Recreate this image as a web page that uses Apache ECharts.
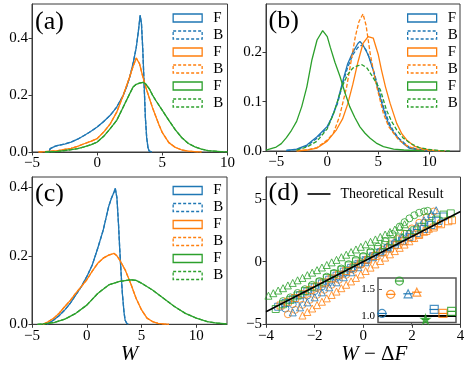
<!DOCTYPE html>
<html><head><meta charset="utf-8">
<script src="https://cdn.jsdelivr.net/npm/echarts@6/dist/echarts.min.js"></script>
<style>html,body{margin:0;padding:0;background:#fff}#c{width:471px;height:369px}</style>
</head><body><div id="c"></div>
<script>
// ---------- panel (a) histograms [W, density] ----------
const aBlueF = [[-4,0],[-3.7,0],[-3.6,0.012],[-3.5,0.018],[-3.25,0.02],[-3,0.023],[-2.5,0.028],[-2,0.035],[-1.5,0.045],[-1,0.058],[-0.5,0.072],[0,0.088],[0.5,0.107],[1,0.129],[1.5,0.158],[2,0.199],[2.25,0.228],[2.5,0.263],[2.75,0.31],[3,0.368],[3.15,0.42],[3.3,0.48],[3.4,0.45],[3.5,0.36],[3.6,0.24],[3.7,0.12],[3.8,0.05],[3.9,0.015],[4.0,0.003],[4.2,0]];
const aBlueB = aBlueF;   // B coincides with F in the picture
const aOrangeF = [[-4.5,0],[-4,0.001],[-3,0.005],[-2.5,0.009],[-2,0.013],[-1.5,0.02],[-1,0.029],[-0.5,0.037],[0,0.047],[0.5,0.07],[1,0.099],[1.5,0.14],[2,0.199],[2.5,0.265],[2.75,0.3],[3,0.33],[3.1,0.332],[3.25,0.31],[3.5,0.265],[3.75,0.225],[4,0.19],[4.25,0.155],[4.5,0.125],[4.75,0.095],[5,0.068],[5.5,0.033],[6,0.016],[6.5,0.007],[7,0.003],[7.5,0.001],[8,0]];
const aOrangeB = aOrangeF;
const aGreenF = [[-4,0],[-3,0.002],[-2,0.008],[-1.5,0.012],[-1,0.018],[-0.5,0.025],[0,0.035],[0.5,0.055],[1,0.082],[1.5,0.111],[2,0.158],[2.5,0.205],[2.75,0.228],[3,0.238],[3.25,0.242],[3.5,0.245],[3.75,0.238],[4,0.222],[4.25,0.2],[4.5,0.181],[5,0.146],[5.5,0.111],[6,0.078],[6.5,0.05],[7,0.03],[7.5,0.018],[8,0.01],[8.5,0.005],[9,0.003],[9.5,0.001],[10,0.0005]];
const aGreenB = aGreenF;

// ---------- panel (b) ----------
const bBlueF = [[-4,0.001],[-3,0.004],[-2,0.012],[-1,0.029],[0,0.05],[0.5,0.07],[1,0.1],[1.5,0.14],[2,0.177],[2.5,0.2],[3,0.218],[3.2,0.222],[3.5,0.215],[4,0.195],[4.5,0.164],[5,0.122],[5.5,0.085],[6,0.055],[6.5,0.037],[7,0.025],[7.5,0.014],[8,0.006],[9,0.002],[10,0.0005],[11,0]];
const bBlueB = [[-4,0.001],[-3,0.003],[-2,0.01],[-1,0.026],[0,0.047],[1,0.096],[1.5,0.135],[2,0.17],[2.5,0.195],[3,0.21],[3.4,0.215],[3.8,0.205],[4.2,0.185],[4.6,0.158],[5,0.128],[5.5,0.09],[6,0.06],[6.5,0.04],[7,0.026],[8,0.008],[9,0.003],[10,0.001],[11,0]];
const bOrangeF = [[-3,0],[-2,0.002],[-1,0.006],[0,0.02],[0.9,0.043],[1.5,0.065],[2,0.095],[2.5,0.135],[3,0.18],[3.5,0.218],[4,0.232],[4.5,0.229],[5,0.195],[5.3,0.165],[5.7,0.13],[6.15,0.097],[6.8,0.056],[7.3,0.035],[7.8,0.022],[8.5,0.01],[9.5,0.004],[10.5,0.001],[11.5,0]];
const bOrangeB = [[-3,0],[-2,0.002],[-1,0.007],[0,0.022],[0.6,0.036],[1.2,0.07],[1.9,0.13],[2.4,0.19],[2.75,0.232],[3.1,0.262],[3.5,0.278],[3.8,0.255],[4.2,0.198],[4.5,0.165],[4.85,0.13],[5.5,0.076],[6,0.05],[6.5,0.036],[7,0.022],[8,0.008],[9,0.003],[10,0.001],[11,0]];
const bGreenF = [[-6,0.002],[-5,0.008],[-4.5,0.015],[-4,0.027],[-3.5,0.042],[-3,0.06],[-2.5,0.09],[-2,0.13],[-1.5,0.185],[-1,0.225],[-0.45,0.244],[0,0.232],[0.3,0.21],[0.75,0.18],[1.25,0.151],[1.7,0.12],[2.2,0.09],[2.7,0.068],[3.2,0.049],[3.7,0.036],[4.2,0.026],[4.8,0.016],[5.5,0.009],[6.5,0.004],[7.5,0.002],[8.5,0.001],[9.5,0]];
const bGreenB = [[-3,0.002],[-2,0.008],[-1,0.02],[0,0.045],[0.7,0.08],[1.4,0.128],[2,0.155],[2.5,0.168],[3,0.173],[3.4,0.175],[3.9,0.168],[4.4,0.152],[5.2,0.124],[5.8,0.083],[6.3,0.06],[6.8,0.043],[7.4,0.027],[8.1,0.016],[9,0.007],[10,0.003],[11,0.001],[12,0]];

// ---------- panel (c) ----------
const cBlueF = [[-3.6,0],[-3.4,0.005],[-3,0.013],[-2.5,0.026],[-2,0.042],[-1.5,0.062],[-1,0.086],[-0.5,0.11],[0,0.139],[0.5,0.173],[1,0.222],[1.5,0.275],[2,0.344],[2.25,0.368],[2.5,0.387],[2.6,0.397],[2.75,0.37],[2.9,0.29],[3,0.225],[3.15,0.14],[3.25,0.09],[3.4,0.035],[3.5,0.012],[3.65,0.003],[3.8,0]];
const cBlueB = cBlueF;
const cOrangeF = [[-4,0],[-3.5,0.008],[-3,0.018],[-2.5,0.033],[-2,0.052],[-1.5,0.07],[-1,0.091],[-0.5,0.11],[0,0.13],[0.5,0.155],[1,0.178],[1.5,0.193],[2,0.202],[2.5,0.207],[2.75,0.2],[3,0.188],[3.5,0.159],[4,0.12],[4.5,0.076],[5,0.042],[5.5,0.018],[6,0.008],[6.5,0.003],[7,0.001],[7.5,0]];
const cOrangeB = cOrangeF;
const cGreenF = [[-4.5,0],[-4,0.001],[-3,0.005],[-2,0.015],[-1,0.032],[0,0.056],[1,0.09],[2,0.115],[3,0.125],[4,0.13],[4.5,0.128],[5,0.12],[6,0.1],[7,0.076],[8,0.052],[9,0.032],[10,0.018],[11,0.008],[12,0.003],[12.8,0.001]];
const cGreenB = cGreenF;

// ---------- panel (d) [W-ΔF, ln ratio] ----------
const dBlueCirc = [[-3.2,-3.75],[-2.9,-3.4],[-2.6,-3.05],[-2.3,-2.7],[-2.0,-2.35],[-1.7,-2.0],[-1.4,-1.65],[-1.1,-1.3],[-0.8,-0.95],[-0.5,-0.6],[-0.2,-0.25],[0.1,0.1],[0.4,0.45],[0.7,0.8],[1.0,1.15],[1.3,1.5],[1.6,1.88],[1.9,2.25],[2.2,2.65],[2.5,3.1],[2.8,3.6]];
const dOrangeCirc = [[-3.1,-4.2],[-2.8,-3.85],[-2.5,-3.45],[-2.2,-3.05],[-1.9,-2.65],[-1.6,-2.25],[-1.3,-1.85],[-1.0,-1.45],[-0.7,-1.05],[-0.4,-0.65],[-0.1,-0.25],[0.2,0.15],[0.5,0.55],[0.8,0.95],[1.1,1.38],[1.4,1.8],[1.7,2.22],[2.0,2.65],[2.3,3.1],[2.6,3.55],[2.9,4.0]];
const dGreenCirc = [[-3.3,-3.15],[-3.0,-2.85],[-2.7,-2.5],[-2.4,-2.2],[-2.1,-1.85],[-1.8,-1.55],[-1.5,-1.2],[-1.2,-0.9],[-0.9,-0.55],[-0.6,-0.2],[-0.3,0.15],[0.0,0.45],[0.3,0.8],[0.6,1.2],[0.9,1.65],[1.2,2.2],[1.5,2.8],[1.7,3.15],[1.9,3.45],[2.1,3.7],[2.3,3.9],[2.5,4.0],[2.65,4.05]];
const dBlueTri = [[-2.9,-4.05],[-2.6,-3.65],[-2.3,-3.25],[-2.0,-2.85],[-1.7,-2.45],[-1.4,-2.05],[-1.1,-1.65],[-0.8,-1.25],[-0.5,-0.85],[-0.2,-0.45],[0.1,-0.05],[0.4,0.35],[0.7,0.75],[1.0,1.15],[1.3,1.55],[1.6,1.95],[1.9,2.4],[2.2,2.85],[2.5,3.3],[2.8,3.8],[3.0,4.1]];
const dOrangeTri = [[-2.5,-4.3],[-2.3,-4.02],[-2.1,-3.74],[-1.9,-3.47],[-1.7,-3.2],[-1.5,-2.93],[-1.3,-2.66],[-1.1,-2.39],[-0.9,-2.12],[-0.7,-1.85],[-0.5,-1.58],[-0.3,-1.3],[-0.1,-1.02],[0.1,-0.75],[0.3,-0.48],[0.5,-0.22],[0.7,0.05],[0.9,0.32],[1.1,0.58],[1.3,0.84],[1.5,1.1],[1.7,1.36],[1.9,1.62],[2.1,1.88],[2.3,2.13],[2.5,2.38],[2.7,2.62],[2.9,2.86],[3.1,3.08]];
const dGreenTri = [[-3.9,-2.72],[-3.7,-2.52],[-3.5,-2.31],[-3.3,-2.12],[-3.1,-1.9],[-2.9,-1.7],[-2.7,-1.49],[-2.5,-1.3],[-2.3,-1.08],[-2.1,-0.88],[-1.9,-0.68],[-1.7,-0.47],[-1.5,-0.27],[-1.3,-0.06],[-1.1,0.14],[-0.9,0.35],[-0.7,0.55],[-0.5,0.76],[-0.3,0.97],[-0.1,1.18],[0.1,1.38],[0.3,1.58],[0.5,1.77],[0.7,1.97],[0.9,2.16],[1.1,2.36],[1.3,2.56],[1.5,2.77],[1.7,2.98]];
const dBlueSq = [[-3.5,-3.6],[-3.2,-3.3],[-2.9,-3.0],[-2.6,-2.68],[-2.3,-2.38],[-2.0,-2.06],[-1.7,-1.75],[-1.4,-1.44],[-1.1,-1.12],[-0.8,-0.8],[-0.5,-0.5],[-0.2,-0.18],[0.1,0.12],[0.4,0.43],[0.7,0.74],[1.0,1.05],[1.3,1.35],[1.6,1.66],[1.9,1.97],[2.2,2.28],[2.5,2.6],[2.8,2.92],[3.1,3.25],[3.3,3.6]];
const dOrangeSq = [[-3.4,-3.5],[-3.1,-3.2],[-2.8,-2.9],[-2.5,-2.6],[-2.2,-2.28],[-1.9,-1.98],[-1.6,-1.66],[-1.3,-1.35],[-1.0,-1.05],[-0.7,-0.75],[-0.4,-0.45],[-0.1,-0.15],[0.2,0.15],[0.5,0.45],[0.8,0.75],[1.1,1.05],[1.4,1.33],[1.7,1.62],[2.0,1.9],[2.3,2.18],[2.6,2.45],[2.9,2.72],[3.2,2.98],[3.5,3.22],[3.65,3.3]];
const dGreenSq = [[-3.6,-3.78],[-3.3,-3.4],[-3.0,-3.05],[-2.7,-2.7],[-2.4,-2.35],[-2.1,-2.0],[-1.8,-1.65],[-1.5,-1.3],[-1.2,-0.98],[-0.9,-0.65],[-0.6,-0.3],[-0.3,0.02],[0.0,0.35],[0.3,0.68],[0.6,1.0],[0.9,1.32],[1.2,1.62],[1.5,1.92],[1.8,2.2],[2.1,2.5],[2.4,2.78],[2.7,3.05],[3.0,3.35],[3.3,3.75],[3.6,3.85]];
const theoryX = [-4, 4];
const theoryY = [-4, 4];

// ---------- inset ----------
const insetX = [0, 1, 2, 3, 4, 5, 6, 7, 8];
const insetY = [1.05, 1.41, 1.66, 1.42, 1.45, 0.94, 1.125, 1.05, 1.09];
const insetErr = [0.55, 0.55, 0.5, 0.55, 0.55, 0.4, 0.55, 0.55, 0.45];
const insetRef = 1.0;

// ---------- ticks ----------
const ticksA_x = [-5, 0, 5, 10], ticksA_y = [0, 0.2, 0.4];
const ticksB_x = [-5, 0, 5, 10], ticksB_y = [0, 0.1, 0.2];
const ticksC_x = [-5, 0, 5, 10], ticksC_y = [0, 0.2, 0.4];
const ticksD_x = [-4, -2, 0, 2, 4], ticksD_y = [-5, 0, 5];
const ticksIn_y = [1.0, 1.5];

const COL = {blue:'#1f77b4', orange:'#ff7f0e', green:'#2ca02c'};
const FONT = 'Liberation Serif';
const AX = '#3a3a3a';
const fmtInt = v => (v < 0 ? '\u2212' : '') + Math.abs(v);
const fmt1 = v => v.toFixed(1);

function gridBox(l, t, w, h, extra) {
  return Object.assign({left:l, top:t, width:w, height:h, show:true, borderColor:AX, borderWidth:1,
    backgroundColor:'rgba(0,0,0,0)', containLabel:false, outerBoundsMode:'none'}, extra || {});
}
function axis(kind, gi, min, max, ticks, fmt, extra) {
  return Object.assign({
    type:'value', gridIndex:gi, min:min, max:max,
    axisLine:{show:true, onZero:false, lineStyle:{color:AX, width:1}},
    axisTick:{show:true, inside:false, length:3.5, customValues:ticks, lineStyle:{color:AX, width:1}},
    axisLabel:{show:true, customValues:ticks, formatter:fmt, color:'#000', fontFamily:FONT, fontSize:15, margin:4},
    splitLine:{show:false}
  }, extra || {});
}

const hist = [];
function addHist(prefix, gi, arrs) {
  const cols = [COL.blue, COL.blue, COL.orange, COL.orange, COL.green, COL.green];
  const names = ['F1','B1','F2','B2','F3','B3'];
  arrs.forEach((d, i) => {
    hist.push({
      type:'line', name:prefix + names[i], xAxisIndex:gi, yAxisIndex:gi, data:d,
      showSymbol:false, symbol:'none', z:2,
      lineStyle:{color:cols[i], width:1.3, type:(i % 2 ? [4, 2] : 'solid')},
      itemStyle:{color:cols[i]}
    });
  });
}
addHist('a', 0, [aBlueF, aBlueB, aOrangeF, aOrangeB, aGreenF, aGreenB]);
addHist('b', 1, [bBlueF, bBlueB, bOrangeF, bOrangeB, bGreenF, bGreenB]);
addHist('c', 2, [cBlueF, cBlueB, cOrangeF, cOrangeB, cGreenF, cGreenB]);

function legendFor(prefix, left, top) {
  const cols = [COL.blue, COL.blue, COL.orange, COL.orange, COL.green, COL.green];
  const names = ['F1','B1','F2','B2','F3','B3'];
  return {
    orient:'vertical', left:left, top:top, itemWidth:29, itemHeight:8, itemGap:2,
    selectedMode:false, icon:'rect', padding:0,
    formatter: n => n.charAt(1),
    textStyle:{fontFamily:FONT, fontSize:15, color:'#000', lineHeight:15, padding:[0,0,0,6]},
    data: names.map((n, i) => ({name:prefix + n, icon:'rect',
      itemStyle:{color:'rgba(0,0,0,0)', borderColor:cols[i], borderWidth:1.3, borderType:(i % 2 ? [3, 2] : 'solid')}}))
  };
}

const scat = [];
function addScat(d, col, sym) {
  scat.push({type:'scatter', xAxisIndex:3, yAxisIndex:3, data:d, symbol:sym, symbolSize:7, z:2,
    itemStyle:{color:'rgba(0,0,0,0)', borderColor:col, borderWidth:1}});
}
addScat(dBlueCirc, COL.blue, 'circle');
addScat(dOrangeCirc, COL.orange, 'circle');
addScat(dGreenCirc, COL.green, 'circle');
addScat(dBlueTri, COL.blue, 'triangle');
addScat(dOrangeTri, COL.orange, 'triangle');
addScat(dGreenTri, COL.green, 'triangle');
addScat(dBlueSq, COL.blue, 'rect');
addScat(dOrangeSq, COL.orange, 'rect');
addScat(dGreenSq, COL.green, 'rect');

const STAR = 'path://M50,0 L61,35 L98,35 L68,57 L79,91 L50,70 L21,91 L32,57 L2,35 L39,35 Z';
const inSym = ['circle','circle','circle','triangle','triangle',STAR,'rect','rect','rect'];
const inCol = [COL.blue, COL.orange, COL.green, COL.blue, COL.orange, COL.green, COL.blue, COL.orange, COL.green];
const inFill = [0,0,0,0,0,1,0,0,0];

const option = {
  animation:false,
  backgroundColor:'#fff',
  grid:[
    gridBox(32, 4, 195.5, 148),
    gridBox(266, 4, 194, 147),
    gridBox(32, 177, 195, 147.3),
    gridBox(266, 177, 194.5, 147.3),
    gridBox(378, 278, 78, 44.5, {z:4, backgroundColor:'#fff', borderColor:'#555', borderWidth:1.5})
  ],
  xAxis:[
    axis('x', 0, -5, 10, ticksA_x, fmtInt),
    axis('x', 1, -6, 13, ticksB_x, fmtInt),
    axis('x', 2, -5, 12.8, ticksC_x, fmtInt, {name:'W', nameLocation:'middle', nameGap:16,
      nameTextStyle:{fontFamily:FONT, fontSize:21, fontStyle:'italic', color:'#000'}}),
    axis('x', 3, -4, 4, ticksD_x, fmtInt, {name:'{i|W} {n|\u2212} {n|\u0394}{i|F}', nameLocation:'middle', nameGap:16,
      nameTextStyle:{fontFamily:FONT, fontSize:21, color:'#000', padding:[0,0,0,22],
        rich:{i:{fontFamily:FONT, fontSize:21, fontStyle:'italic', color:'#000'}, n:{fontFamily:FONT, fontSize:21, color:'#000'}}}}),
    {type:'value', gridIndex:4, min:-0.46, max:8.5, z:5,
      axisLine:{show:false}, axisTick:{show:true, length:3, customValues:[3.35], lineStyle:{color:'#555'}},
      axisLabel:{show:false}, splitLine:{show:false}}
  ],
  yAxis:[
    axis('y', 0, 0, 0.52, ticksA_y, fmt1),
    axis('y', 1, 0, 0.298, ticksB_y, fmt1),
    axis('y', 2, 0, 0.43, ticksC_y, fmt1),
    axis('y', 3, -5, 6.75, ticksD_y, fmtInt),
    {type:'value', gridIndex:4, min:0.88, max:1.717, z:5,
      axisLine:{show:false}, axisTick:{show:true, length:3, customValues:ticksIn_y, lineStyle:{color:'#555'}},
      axisLabel:{show:true, customValues:ticksIn_y, formatter:fmt1, color:'#000', fontFamily:FONT, fontSize:11, margin:3},
      splitLine:{show:false}}
  ],
  legend:[
    legendFor('a', 172.5, 10.5),
    legendFor('b', 407, 10.5),
    legendFor('c', 172.5, 183),
    {left:307.5, top:187, itemWidth:23, itemHeight:1.6, padding:0, selectedMode:false,
     textStyle:{fontFamily:FONT, fontSize:14, color:'#000', lineHeight:14, padding:[0,0,0,5]},
     data:[{name:'Theoretical Result', icon:'rect', itemStyle:{color:'#000', borderWidth:0}}]}
  ],
  graphic:[
    {type:'text', left:35, top:9, style:{text:'(a)', font:'26px "Liberation Serif"', fill:'#000'}},
    {type:'text', left:268.5, top:8, style:{text:'(b)', font:'26px "Liberation Serif"', fill:'#000'}},
    {type:'text', left:35, top:181, style:{text:'(c)', font:'26px "Liberation Serif"', fill:'#000'}},
    {type:'text', left:268.5, top:180, style:{text:'(d)', font:'26px "Liberation Serif"', fill:'#000'}}
  ],
  series: hist.concat(scat).concat([
    {type:'line', name:'Theoretical Result', xAxisIndex:3, yAxisIndex:3, z:3,
     data: theoryX.map((x, i) => [x, theoryY[i]]), symbol:'none', showSymbol:false,
     lineStyle:{color:'#000', width:1.5}, itemStyle:{color:'#000'}},
    {type:'custom', xAxisIndex:4, yAxisIndex:4, z:6,
     data: insetX.map((x, i) => [x, insetY[i], insetErr[i]]),
     renderItem: (params, api) => {
       const i = params.dataIndex;
       const p0 = api.coord([api.value(0) - api.value(2), api.value(1)]);
       const p1 = api.coord([api.value(0) + api.value(2), api.value(1)]);
       return {type:'line', shape:{x1:p0[0], y1:p0[1], x2:p1[0], y2:p1[1]},
         style:{stroke:inCol[i], lineWidth:1.2}};
     }},
    {type:'scatter', xAxisIndex:4, yAxisIndex:4, z:7, symbolSize:8,
     data: insetX.map((x, i) => ({value:[x, insetY[i]], symbol:inSym[i], symbolSize:(inFill[i] ? 9 : 8),
       itemStyle:{color:(inFill[i] ? inCol[i] : 'rgba(0,0,0,0)'), borderColor:inCol[i], borderWidth:1.2}})),
     markLine:{silent:true, symbol:'none', label:{show:false},
       lineStyle:{color:'#000', width:2.2, type:'solid'}, data:[{yAxis:insetRef}]}}
  ])
};
const chart = echarts.init(document.getElementById('c'), null, {renderer:'canvas'});
chart.setOption(option);
</script>
</body></html>
